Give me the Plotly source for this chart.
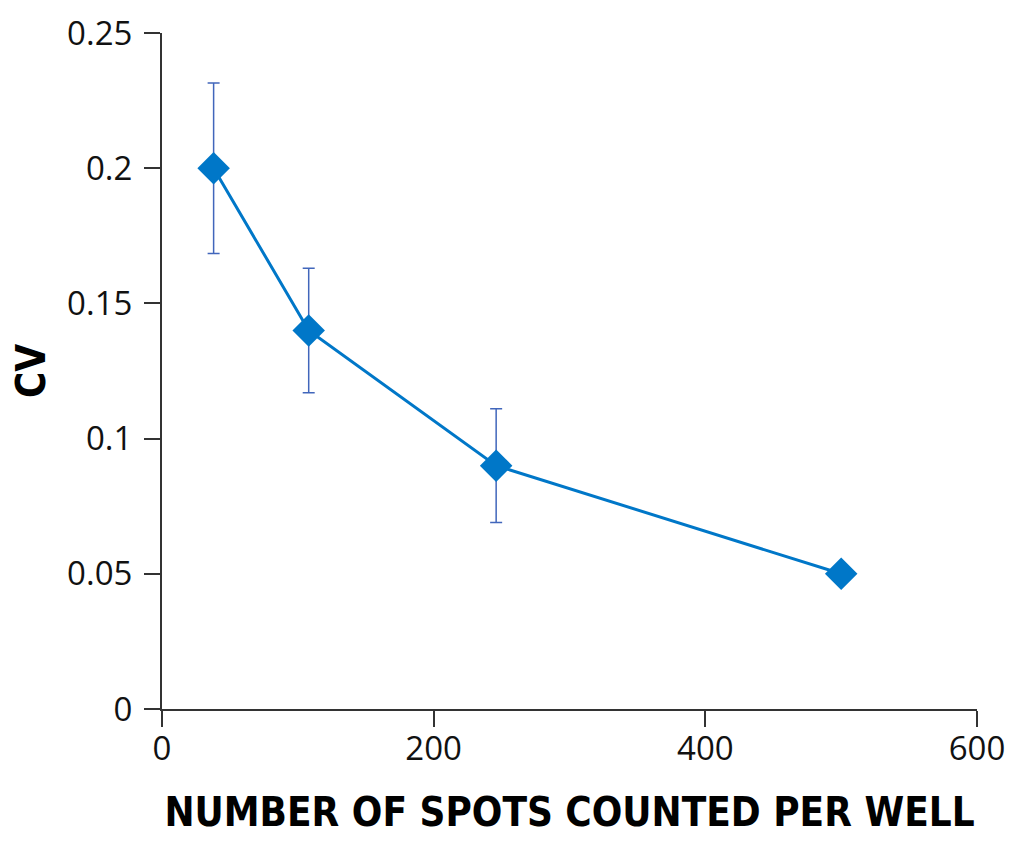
import plotly.graph_objects as go

spots = [38, 108, 246, 500]
cv = [0.200, 0.140, 0.090, 0.050]
cv_err = [0.0315, 0.023, 0.021, 0.0]
x_ticks = [0, 200, 400, 600]
y_ticks = [0, 0.05, 0.1, 0.15, 0.2, 0.25]
y_tick_text = ["0", "0.05", "0.1", "0.15", "0.2", "0.25"]

fig = go.Figure()
fig.add_trace(go.Scatter(
    x=spots, y=cv, mode="lines+markers",
    line=dict(color="#0077c8", width=3),
    marker=dict(symbol="diamond", size=25, color="#0077c8"),
    error_y=dict(type="data", array=cv_err, visible=True,
                 color="#4166bb", thickness=1.5, width=6),
    showlegend=False,
))

tick_font = dict(family="Open Sans, Noto Sans, sans-serif", size=33, color="#111")
title_font = dict(family="DejaVu Sans Condensed, Liberation Sans Narrow, DejaVu Sans, sans-serif",
                  size=40, color="#000", weight="bold")

fig.update_layout(
    width=1008, height=827,
    margin=dict(l=154, r=39, t=25, b=126),
    paper_bgcolor="white", plot_bgcolor="white",
    xaxis=dict(
        range=[0, 600], tickvals=x_ticks, ticktext=[str(v) for v in x_ticks],
        showline=True, linecolor="#333", linewidth=2,
        ticks="outside", ticklen=16, tickwidth=2, tickcolor="#333",
        showgrid=False, zeroline=False, tickfont=tick_font,
        ticklabelstandoff=-7, automargin=False,
        title=dict(text="NUMBER OF SPOTS COUNTED PER WELL", font=title_font, standoff=29),
    ),
    yaxis=dict(
        range=[0, 0.25], tickvals=y_ticks, ticktext=y_tick_text,
        showline=True, linecolor="#333", linewidth=2,
        ticks="outside", ticklen=16, tickwidth=2, tickcolor="#333",
        showgrid=False, zeroline=False, tickfont=tick_font,
        ticklabelstandoff=5, automargin=False,
        title=dict(text="CV", font=title_font, standoff=25),
    ),
)

fig.write_html("out.html")
